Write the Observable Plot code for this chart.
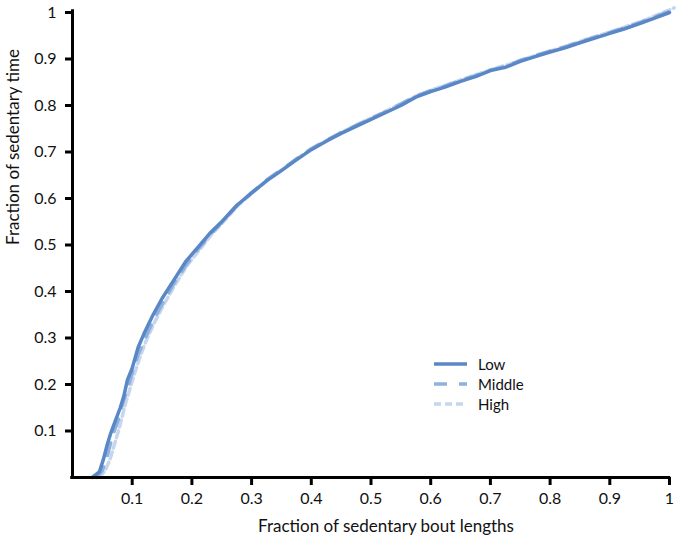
<!DOCTYPE html>
<html>
<head>
<meta charset="utf-8">
<script src="https://cdn.jsdelivr.net/npm/d3@7"></script>
<script src="https://cdn.jsdelivr.net/npm/@observablehq/plot@0.6"></script>
<style>
  html, body { margin: 0; padding: 0; background: #fff; }
  #wrap { position: relative; width: 679px; height: 540px; font-family: Lato, "Open Sans", sans-serif; }
  #legend { position: absolute; left: 432px; top: 354px; font-size: 15px; color: #111; }
  #legend .row { display: flex; align-items: center; height: 20px; }
  #legend svg { margin-right: 10px; }
</style>
</head>
<body>
<div id="wrap"><div id="chart"></div><div id="legend"></div></div>
<script>
const seriesNames = ["Low", "Middle", "High"];
const seriesColors = ["#5a87c5", "#8fb1de", "#c5d6ee"];
const seriesDash = [null, "13,12", "7,4"];

const lowX = [0.033,0.045,0.052,0.058,0.064,0.072,0.08,0.086,0.092,0.1,0.11,0.12,0.135,0.15,0.17,0.19,0.21,0.23,0.25,0.275,0.3,0.325,0.35,0.375,0.4,0.425,0.45,0.475,0.5,0.525,0.55,0.575,0.6,0.625,0.65,0.675,0.7,0.725,0.75,0.775,0.8,0.825,0.85,0.875,0.9,0.925,0.95,0.975,1.0];
const lowY = [0,0.012,0.04,0.07,0.095,0.123,0.15,0.175,0.21,0.235,0.28,0.31,0.35,0.385,0.425,0.465,0.495,0.525,0.55,0.585,0.612,0.638,0.66,0.683,0.705,0.723,0.74,0.755,0.77,0.785,0.8,0.818,0.83,0.84,0.852,0.862,0.875,0.882,0.895,0.905,0.915,0.924,0.935,0.945,0.955,0.965,0.976,0.988,1.0];

const midX = [0.04,0.05,0.057,0.063,0.07,0.077,0.084,0.092,0.1,0.11,0.122,0.135,0.151,0.171,0.192,0.212,0.232,0.252,0.277,0.3,0.325,0.35,0.375,0.4,0.425,0.45,0.475,0.5,0.525,0.55,0.575,0.6,0.625,0.65,0.675,0.7,0.725,0.75,0.775,0.8,0.825,0.85,0.875,0.9,0.925,0.95,0.975,1.0];
const midY = [0,0.015,0.04,0.07,0.1,0.125,0.16,0.19,0.225,0.265,0.3,0.337,0.375,0.42,0.46,0.494,0.524,0.552,0.587,0.612,0.64,0.662,0.685,0.707,0.725,0.742,0.757,0.772,0.787,0.803,0.82,0.832,0.842,0.854,0.864,0.876,0.884,0.897,0.907,0.917,0.926,0.937,0.947,0.957,0.967,0.978,0.99,1.002];

const highX = [0.045,0.055,0.063,0.07,0.077,0.083,0.089,0.096,0.103,0.112,0.122,0.136,0.152,0.172,0.193,0.213,0.233,0.253,0.278,0.303,0.33,0.355,0.38,0.405,0.43,0.455,0.48,0.505,0.53,0.555,0.58,0.605,0.63,0.655,0.68,0.705,0.73,0.755,0.78,0.805,0.83,0.855,0.88,0.905,0.93,0.955,0.98,1.008];
const highY = [0,0.015,0.04,0.07,0.1,0.13,0.16,0.19,0.22,0.255,0.29,0.33,0.37,0.415,0.458,0.49,0.523,0.55,0.586,0.614,0.643,0.666,0.689,0.71,0.728,0.745,0.761,0.776,0.791,0.807,0.823,0.835,0.846,0.857,0.868,0.879,0.888,0.899,0.909,0.919,0.929,0.94,0.95,0.96,0.971,0.982,0.995,1.01];

const xTicks = [0.1,0.2,0.3,0.4,0.5,0.6,0.7,0.8,0.9,1];
const yTicks = [0.1,0.2,0.3,0.4,0.5,0.6,0.7,0.8,0.9,1];

const toRows = (xs, ys, s) => xs.map((x, i) => ({x, y: ys[i], s}));
const lowRows = toRows(lowX, lowY, "Low");
const midRows = toRows(midX, midY, "Middle");
const highRows = toRows(highX, highY, "High");

const fmt = d => String(+d.toFixed(1));

const chart = Plot.plot({
  width: 679,
  height: 540,
  marginLeft: 72,
  marginRight: 10,
  marginTop: 12,
  marginBottom: 63,
  style: {fontFamily: "Lato, 'Open Sans', sans-serif", fontSize: "16px", color: "#111", background: "#fff"},
  x: {domain: [0, 1]},
  y: {domain: [0, 1]},
  marks: [
    Plot.axisX({ticks: xTicks, tickSize: 8, strokeWidth: 3, stroke: "#000", tickFormat: fmt, tickPadding: 7, fontSize: 16, label: null}),
    Plot.axisY({ticks: yTicks, tickSize: 7, strokeWidth: 3, stroke: "#000", tickFormat: fmt, tickPadding: 9, fontSize: 16, label: null}),
    Plot.text(["Fraction of sedentary bout lengths"], {frameAnchor: "bottom", dx: 15, dy: 54, fontSize: 17, fill: "#111"}),
    Plot.text(["Fraction of sedentary time"], {frameAnchor: "left", dx: -59, rotate: -90, fontSize: 17, fill: "#111"}),
    Plot.line(highRows, {x: "x", y: "y", stroke: seriesColors[2], strokeWidth: 3.5, strokeDasharray: seriesDash[2], clip: false}),
    Plot.line(midRows, {x: "x", y: "y", stroke: seriesColors[1], strokeWidth: 3.5, strokeDasharray: seriesDash[1]}),
    Plot.line(lowRows, {x: "x", y: "y", stroke: seriesColors[0], strokeWidth: 3.5}),
    Plot.ruleX([0], {y1: 0, y2: 1.006, stroke: "#000", strokeWidth: 3}),
    Plot.ruleY([0], {x1: -0.003, x2: 1.002, stroke: "#000", strokeWidth: 3})
  ]
});
document.getElementById("chart").appendChild(chart);

const legend = document.getElementById("legend");
seriesNames.forEach((name, i) => {
  const row = document.createElement("div");
  row.className = "row";
  row.innerHTML = `<svg width="36" height="8"><line x1="2" y1="4" x2="35" y2="4" stroke="${seriesColors[i]}" stroke-width="3.5" ${seriesDash[i] ? `stroke-dasharray="${seriesDash[i]}"` : ""}/></svg><span>${name}</span>`;
  legend.appendChild(row);
});
</script>
</body>
</html>
